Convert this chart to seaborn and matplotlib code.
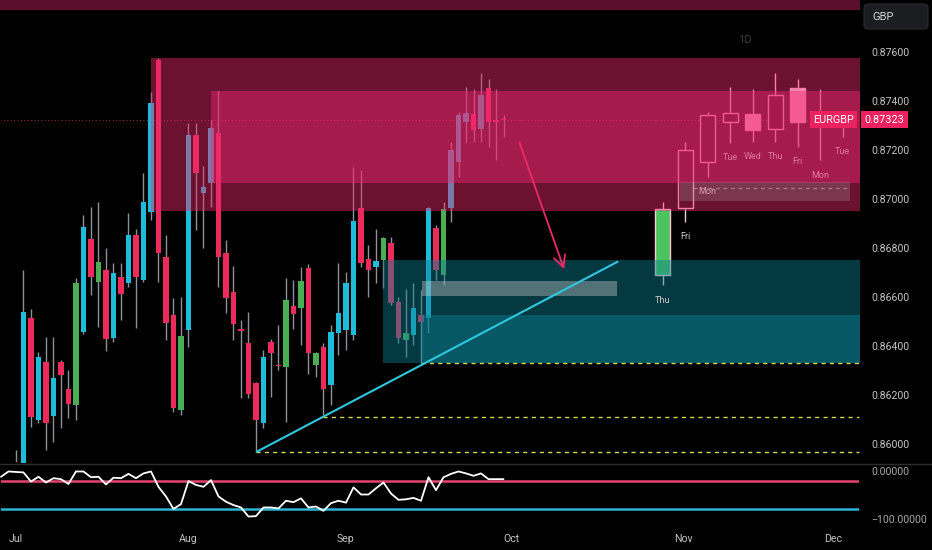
import numpy as np
import pandas as pd
import seaborn as sns
import matplotlib.pyplot as plt
from matplotlib.patches import Rectangle, FancyBboxPatch
from matplotlib.lines import Line2D
import matplotlib.transforms as mtransforms

# daily EURGBP candles, bar 0 = 1 Jul
opens = [0.8584, 0.8588, 0.86515, 0.86097, 0.86333, 0.86114, 0.86335, 0.86223, 0.86159, 0.86458,
         0.86835, 0.86659, 0.86709, 0.86433, 0.86680, 0.86655, 0.86852, 0.86669, 0.86947, 0.87566,
         0.86764, 0.86526, 0.86138, 0.86465, 0.87260, 0.87025, 0.87066, 0.87267, 0.86780, 0.86618,
         0.86469, 0.86410, 0.86247, 0.86084, 0.86417, 0.86322, 0.86315, 0.86563, 0.86556, 0.86716,
         0.86322, 0.86394, 0.86240, 0.86451, 0.86465, 0.86444, 0.86961, 0.86753, 0.86720, 0.86750,
         0.86821, 0.86580, 0.86424, 0.86444, 0.86526, 0.86512, 0.86880, 0.86689, 0.86961, 0.87151,
         0.87314, 0.87346, 0.87283, 0.87451, 0.87321, 0.87326]
highs = [0.85975, 0.86709, 0.86549, 0.86376, 0.86437, 0.86437, 0.86342, 0.86302, 0.86676, 0.86934,
         0.86968, 0.86986, 0.86798, 0.86739, 0.86739, 0.86941, 0.86877, 0.87106, 0.87437, 0.87573,
         0.86852, 0.86594, 0.86598, 0.87308, 0.87308, 0.87134, 0.87321, 0.87441, 0.86832, 0.86726,
         0.86505, 0.86539, 0.86254, 0.86383, 0.86427, 0.86485, 0.86676, 0.86669, 0.86723, 0.86734,
         0.86376, 0.86410, 0.86485, 0.86739, 0.86702, 0.87131, 0.87117, 0.86811, 0.86875, 0.86845,
         0.86845, 0.86600, 0.86631, 0.86655, 0.86628, 0.86968, 0.86893, 0.86988, 0.87233, 0.87355,
         0.87457, 0.87447, 0.87512, 0.87487, 0.87447, 0.87342]
lows = [0.8578, 0.8582, 0.86070, 0.86084, 0.85975, 0.86009, 0.86064, 0.86104, 0.86097, 0.86450,
        0.86607, 0.86478, 0.86380, 0.86417, 0.86505, 0.86641, 0.86472, 0.86660, 0.86913, 0.86662,
        0.86424, 0.86131, 0.86118, 0.86396, 0.86873, 0.86798, 0.86968, 0.86641, 0.86535, 0.86424,
        0.86186, 0.86186, 0.85968, 0.86064, 0.86192, 0.86301, 0.86090, 0.86467, 0.86403, 0.86284,
        0.86274, 0.86118, 0.86159, 0.86363, 0.86383, 0.86424, 0.86723, 0.86600, 0.86655, 0.86635,
        0.86567, 0.86410, 0.86356, 0.86403, 0.86331, 0.86451, 0.86669, 0.86648, 0.86906, 0.87090,
        0.87229, 0.87233, 0.87233, 0.87212, 0.87158, 0.87253]
closes = [0.8590, 0.86539, 0.86111, 0.86353, 0.86084, 0.86270, 0.86281, 0.86161, 0.86655, 0.86886,
          0.86680, 0.86741, 0.86428, 0.86696, 0.86612, 0.86852, 0.86682, 0.86986, 0.87390, 0.86778,
          0.86492, 0.86145, 0.86440, 0.87260, 0.87106, 0.87049, 0.87288, 0.86764, 0.86594, 0.86489,
          0.86460, 0.86204, 0.86097, 0.86353, 0.86370, 0.86318, 0.86587, 0.86530, 0.86666, 0.86370,
          0.86372, 0.86223, 0.86458, 0.86535, 0.86655, 0.86909, 0.86739, 0.86709, 0.86747, 0.86839,
          0.86574, 0.86431, 0.86454, 0.86553, 0.86498, 0.86961, 0.86709, 0.86958, 0.87199, 0.87342,
          0.87351, 0.87281, 0.87423, 0.87314, 0.87314, 0.87323]
kinds = "ccpcpcppgc" "pgpcpcpccp" "ppgcpccppp" "pppcppgpgp" "gpccccppcg" "ppgcpcpgcc" "cpcppp"

# Williams %R, bars -2 .. 65
wr_vals = [-12, -1, -2, -3, -22, -12, -24, -15, -17, -27,
           -1, -1, -13, -12, -28, -14, -15, -6, -15, -5,
           -1, -33, -53, -79, -69, -21, -29, -33, -19, -53,
           -64, -71, -76, -95, -94, -76, -76, -78, -62, -65,
           -57, -76, -74, -83, -67, -62, -66, -34, -49, -49,
           -36, -24, -47, -60, -59, -56, -62, -13, -40, -13,
           -6, -1, -5, -10, -5, -17, -17, -17]

months = ["Jul", "Aug", "Sep", "Oct", "Nov", "Dec"]
month_bars = [0, 23, 44, 66, 89, 109]
price_ticks = [0.860, 0.862, 0.864, 0.866, 0.868, 0.870, 0.872, 0.874, 0.876]
ghost_days = ["Thu", "Fri", "Mon", "Tue", "Wed", "Thu", "Fri", "Mon", "Tue"]
last_price = 0.87323

# zones (price ranges)
supply_outer = (0.86951, 0.87573)
supply_inner = (0.87066, 0.87441)
demand_zone = (0.86331, 0.86750)
demand_inner = (0.86331, 0.86526)
mid_box = (0.86603, 0.86666)
proj_box = (0.86992, 0.87068)
levels = [0.86331, 0.86110, 0.85968]
level_start = [54, 41, 32]

df = pd.DataFrame({"bar": np.arange(len(opens)), "open": opens, "high": highs,
                   "low": lows, "close": closes, "kind": list(kinds)})

sns.set_theme(style="dark", rc={"axes.facecolor": "black", "figure.facecolor": "black",
                                "axes.edgecolor": "black", "axes.grid": False,
                                "text.color": "#c4c4c4", "xtick.color": "#c4c4c4",
                                "ytick.color": "#c4c4c4"})
plt.rcParams['font.family'] = ['Roboto', 'DejaVu Sans']

W, H = 932, 550
fig = plt.figure(figsize=(9.32, 5.5), dpi=100)
ax = fig.add_axes([0, 87 / H, 860 / W, 463 / H])
axw = fig.add_axes([0, 23 / H, 860 / W, 62 / H])

xmin, xmax = -2.13, 112.53
ax.set_xlim(xmin, xmax)
ax.set_ylim(0.85922, 0.87811)
axw.set_xlim(xmin, xmax)
axw.set_ylim(-116.7, 12.5)

col = {"c": "#1fbcd9", "p": "#ec2a5c", "g": "#4aae55"}
body_col = [col[k] for k in df["kind"]]

# daily candles
ax.vlines(df["bar"], df["low"], df["high"], color="#8d929a", lw=1, zorder=2)
body_h = np.maximum((df["close"] - df["open"]).abs(), 0.00003)
body_b = np.minimum(df["open"], df["close"])
ax.bar(df["bar"], body_h, bottom=body_b, width=0.7, color=body_col, zorder=3, linewidth=0)

# projected candles (last 9 days, stretched)
ghost = df.iloc[-9:].reset_index(drop=True)
gx = 86.2 + 3.0 * np.arange(len(ghost))
for i, r in ghost.iterrows():
    ax.vlines(gx[i], r["low"], r["high"], color="#ffc8da", lw=1, zorder=2)
    lo = min(r["open"], r["close"])
    hgt = max(abs(r["close"] - r["open"]), 0.00003)
    if r["kind"] == "g":
        fc = "#4cc35e"
    elif r["kind"] == "p":
        fc = "#ffd0df"
    else:
        fc = "black"
    ax.add_patch(Rectangle((gx[i] - 1.0, lo), 2.0, hgt, facecolor=fc,
                           edgecolor="#ffc8da", lw=1, zorder=3))

# zones drawn over candles
pink = "#ee286f"
teal = "#0a8092"
ax.add_patch(Rectangle((xmin - 1, 0.87770), 120, 0.003, color=pink, alpha=0.38, lw=0, zorder=4))
ax.add_patch(Rectangle((18.05, supply_outer[0]), 100, supply_outer[1] - supply_outer[0],
                       color=pink, alpha=0.45, lw=0, zorder=4))
ax.add_patch(Rectangle((25.96, supply_inner[0]), 100, supply_inner[1] - supply_inner[0],
                       color=pink, alpha=0.44, lw=0, zorder=4))
ax.add_patch(Rectangle((48.9, demand_zone[0]), 70, demand_zone[1] - demand_zone[0],
                       color=teal, alpha=0.45, lw=0, zorder=4))
ax.add_patch(Rectangle((54.1, demand_inner[0]), 70, demand_inner[1] - demand_inner[0],
                       color=teal, alpha=0.45, lw=0, zorder=4))
ax.add_patch(Rectangle((54.1, mid_box[0]), 26.0, mid_box[1] - mid_box[0],
                       color="#d0d0d0", alpha=0.38, lw=0, zorder=4.5))
ax.add_patch(Rectangle((88.5, proj_box[0]), 22.7, proj_box[1] - proj_box[0],
                       color="#a8a8a8", alpha=0.25, lw=0, zorder=4.5))
ax.hlines(0.87043, 90.3, 110.9, color="#e8c8d0", alpha=0.45, lw=0.9,
          linestyles=(0, (3, 3)), zorder=4.6)

# current price
ax.axhline(last_price, color="#e0406a", lw=0.7, ls=(0, (1, 2.5)), alpha=0.7, zorder=1.5)

# key levels
for lv, st in zip(levels, level_start):
    ax.hlines(lv, st, 112.4, color="#d6d84a", lw=1, linestyles=(0, (3, 3)), zorder=5)

# trendline and arrow
ax.plot([32.1, 80.2], [0.85968, 0.86743], color="#2ec8e0", lw=1.5, zorder=6,
        solid_capstyle="round")
ax.annotate("", xy=(73.2, 0.86702), xytext=(67.0, 0.87240),
            arrowprops=dict(arrowstyle="->,head_length=0.7,head_width=0.35",
                            color="#ee2a66", lw=1.3), zorder=7)

# day labels under projected candles
lab_col = ["#c8cccc", "#d0d0d0", "#d99aae"] + ["#e2799c"] * 6
for i, r in ghost.iterrows():
    ax.annotate(ghost_days[i], (gx[i], r["low"]), xytext=(0, -15), textcoords="offset pixels",
                ha="center", va="center", fontsize=6.5, color=lab_col[i], zorder=8)

# price axis
ax.set_yticks(price_ticks)
ax.set_yticklabels([f"{t:.5f}" for t in price_ticks])
ax.yaxis.tick_right()
ax.tick_params(axis="y", length=0, pad=8, labelsize=7.6, labelcolor="#c4c4c4")
ax.tick_params(axis="x", length=0, labelbottom=False)
ax.set_xlabel("")
ax.set_ylabel("")

# price tags
tr = mtransforms.blended_transform_factory(ax.transAxes, ax.transData)
ax.text(0.993, last_price, "EURGBP", transform=tr, ha="right", va="center", fontsize=7.8,
        color="white", zorder=9, clip_on=False,
        bbox=dict(boxstyle="square,pad=0.3", fc="#ec2160", ec="none"))
ax.text(1.0055, last_price, f"{last_price:.5f}", transform=tr, ha="left", va="center",
        fontsize=7.8, color="white", zorder=9, clip_on=False,
        bbox=dict(boxstyle="square,pad=0.3", fc="#ec2160", ec="none"))

# Williams %R pane
wr_bars = np.arange(-2, -2 + len(wr_vals))
axw.axhline(-20, color="#e5446f", lw=1.8, zorder=1)
axw.axhline(-80, color="#2bb4d4", lw=1.8, zorder=1)
sns.lineplot(x=wr_bars, y=wr_vals, ax=axw, color="white", linewidth=1.3, zorder=3)
axw.set_yticks([0, -100])
axw.set_yticklabels(["0.00000", "\u2212100.00000"])
axw.yaxis.tick_right()
axw.tick_params(axis="y", length=0, pad=8, labelsize=7.6, labelcolor="#a8a8a8")
axw.set_xticks(month_bars)
axw.set_xticklabels(months)
axw.tick_params(axis="x", length=0, pad=5, labelsize=7.6, labelcolor="#c4c4c4")
axw.set_xlabel("")
axw.set_ylabel("")

# pane separator
fig.add_artist(Line2D([0, 1], [86 / H, 86 / H], transform=fig.transFigure,
                      color="#2c2c2c", lw=1))

# header bits
fig.add_artist(FancyBboxPatch((864 / W, 1 - 29 / H), 64 / W, 25 / H,
                              boxstyle="round,pad=0,rounding_size=0.006",
                              transform=fig.transFigure, fc="#1c1d21", ec="#2a2c33", lw=0.8))
fig.text(872 / W, 1 - 16.5 / H, "GBP", ha="left", va="center", fontsize=8, color="#d6d6d6")
fig.text(745 / W, 1 - 40 / H, "1D", ha="center", va="center", fontsize=8, color="#3a3a3a")

fig.savefig("out.png", dpi=100, facecolor="black")
plt.close(fig)
